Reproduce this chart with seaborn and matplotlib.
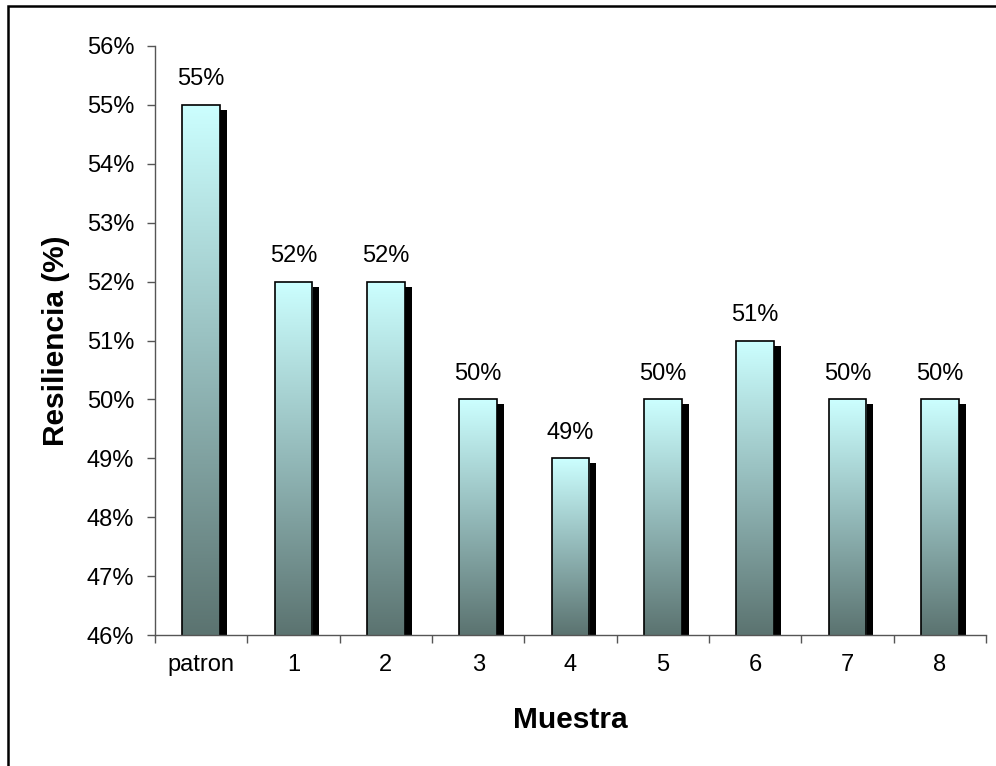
import numpy as np
import pandas as pd
import matplotlib
matplotlib.use("Agg")
import matplotlib.pyplot as plt
import matplotlib.transforms as mtransforms
from matplotlib.patches import Rectangle
from matplotlib.colors import LinearSegmentedColormap
from matplotlib.ticker import PercentFormatter, FixedLocator
import seaborn as sns

# Data
muestras = ["patron", "1", "2", "3", "4", "5", "6", "7", "8"]
resiliencia = [0.55, 0.52, 0.52, 0.50, 0.49, 0.50, 0.51, 0.50, 0.50]
y_ticks = [0.46, 0.47, 0.48, 0.49, 0.50, 0.51, 0.52, 0.53, 0.54, 0.55, 0.56]

df = pd.DataFrame({"Muestra": muestras, "Resiliencia": resiliencia})

sns.set_theme(style="white")
plt.rcParams["font.family"] = ["Liberation Sans", "DejaVu Sans"]
plt.rcParams["text.color"] = "black"
plt.rcParams["axes.labelcolor"] = "black"
plt.rcParams["xtick.color"] = "black"
plt.rcParams["ytick.color"] = "black"

W, H = 996, 766
fig = plt.figure(figsize=(W / 100, H / 100), dpi=100)
ax = fig.add_axes([155 / W, (H - 635) / H, (986 - 155) / W, (635 - 46) / H])

sns.barplot(data=df, x="Muestra", y="Resiliencia", ax=ax, width=0.41,
            color="white", edgecolor="black", linewidth=1.2, zorder=3)

ymin, ymax = 0.46, 0.56
ax.set_ylim(ymin, ymax)
ax.set_xlim(-0.5, len(muestras) - 0.5)

grad = LinearSegmentedColormap.from_list("bar", ["#5b7370", "#93b9b9", "#ccffff"])
gradient = np.linspace(0, 1, 256).reshape(-1, 1)
shadow_offset = mtransforms.ScaledTranslation(7 / 100, -5 / 100, fig.dpi_scale_trans)

for patch, val in zip(ax.patches, resiliencia):
    x0 = patch.get_x()
    w = patch.get_width()
    top = patch.get_y() + patch.get_height()
    # drop shadow
    sh = Rectangle((x0, ymin - 0.01), w, top - ymin + 0.01, facecolor="black",
                   edgecolor="none", transform=ax.transData + shadow_offset, zorder=1)
    sh.set_clip_box(ax.bbox)
    ax.add_patch(sh)
    # vertical gradient fill
    im = ax.imshow(gradient, cmap=grad, origin="lower", aspect="auto",
                   extent=(x0, x0 + w, ymin, top), zorder=2, interpolation="bilinear")
    im.set_clip_path(patch)
    patch.set_facecolor("none")
    ax.text(x0 + w / 2, top + 0.0025, f"{val:.0%}", ha="center", va="bottom",
            fontsize=17, color="black", zorder=4)

ax.set_xlim(-0.5, len(muestras) - 0.5)
ax.set_ylim(ymin, ymax)

ax.yaxis.set_major_locator(FixedLocator(y_ticks))
ax.yaxis.set_major_formatter(PercentFormatter(1.0, decimals=0))
ax.set_xticks(np.arange(len(muestras) + 1) - 0.5, minor=False)
ax.set_xticklabels([])
ax.set_xticks(np.arange(len(muestras)), minor=True)
ax.set_xticklabels(muestras, minor=True)

ax.tick_params(axis="y", which="major", direction="out", length=6, width=1,
               color="#555555", labelcolor="black", labelsize=17, pad=9, left=True)
ax.tick_params(axis="x", which="major", direction="out", length=6, width=1,
               color="#555555", bottom=True)
ax.tick_params(axis="x", which="minor", length=0, labelsize=17, pad=14,
               labelcolor="black")

for side in ["top", "right"]:
    ax.spines[side].set_visible(False)
for side in ["left", "bottom"]:
    ax.spines[side].set_visible(True)
    ax.spines[side].set_color("#555555")
    ax.spines[side].set_linewidth(1.0)
    ax.spines[side].set_zorder(5)

ax.set_xlabel("Muestra", fontsize=21.5, fontweight="bold", labelpad=21,
              color="black")
ax.set_ylabel("Resiliencia (%)", fontsize=21.5, fontweight="bold", labelpad=12,
              color="black")
ax.set_facecolor("white")
ax.grid(False)

# chart frame
frame = Rectangle((8 / W, -0.1), 1.2, 1.1 - 6 / H, transform=fig.transFigure,
                  facecolor="none", edgecolor="black", linewidth=1.8, zorder=10)
fig.patches.append(frame)

fig.savefig("out.png", dpi=100, facecolor="white")
